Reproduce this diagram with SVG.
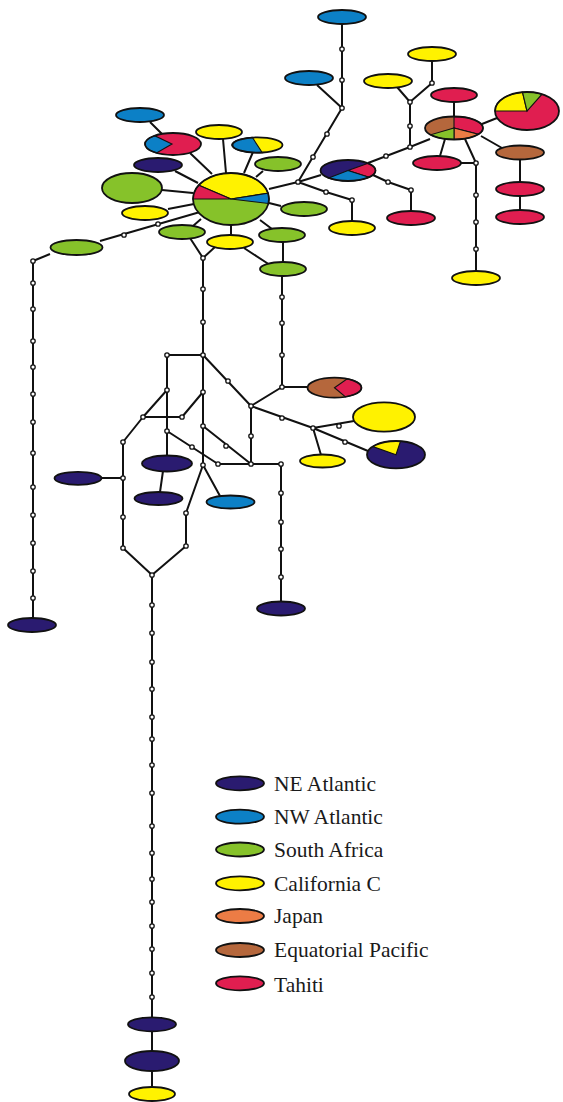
<svg xmlns="http://www.w3.org/2000/svg" width="563" height="1102" viewBox="0 0 563 1102">
<style>
.ln{fill:none;stroke:#111;stroke-width:2;stroke-linejoin:round}
.dt{fill:#fff;stroke:#111;stroke-width:1.3}
.el{stroke:#111;stroke-width:1.8}
.wd{stroke:#111;stroke-width:1.1}
.ne{fill:#2a1b70}.nw{fill:#0c80c6}.sa{fill:#86c22a}.ca{fill:#fff200}.jp{fill:#ec7c45}.eq{fill:#b5673c}.ta{fill:#e01e50}
.ol{fill:none;stroke:#111;stroke-width:1.8}
.lg{font-family:"Liberation Serif","Times New Roman",serif;font-size:21.5px;fill:#1a1a1a}
</style>
<rect width="563" height="1102" fill="#fff"/>
<g id="connectors">
<path class="ln" d="M342,24 V108 M317,85 L342,108 L298,182 L269,189 M298,182 L321,175 M298,182 L326,192 L352,200 V221"/>
<path class="ln" d="M368,163 L410,147 V102 L397,87 M410,102 L432,83 V61 M410,147 L430,139 M373,175 L388,182 L411,190 V211"/>
<path class="ln" d="M454,102 V116.5 M482,124 L497,118 M481,136 L502,148 M520,159.5 V182 M520,196 V210 M445,139 L440,156 M465,139 L476,163 M461,163 H476 V271"/>
<path class="ln" d="M150,122 L162,134 M190,153 L212,174 M223,139 L226,173 M253,152 L244,173 M263,171 L256,177 M175,171 L198,183 M162,190 L193,193 M168,209 L194,204 M100,241 L200,212 M50,254 L33,261 V618"/>
<path class="ln" d="M281,206 L269,203 M193,226 L201,219 M231,235 V225 M272,229 L260,220 M283,242 V262 M190,238 L203,258 M215,247 L203,258 M244,248 L270,265"/>
<path class="ln" d="M203,258 V465 M282,276 V387 H307.5 M282,387 L251,406 M203,355 L251,406 L313,428 L354,421 M313,428 L321,455 M313,428 L368,451 M251,406 V464 M218,464 H281 V601"/>
<path class="ln" d="M203,355 H167 V455 M203,392 L182,417 H143 M167,390 L143,417 L123,442 V548 L152,575 M101,478 H123 M203,465 L186,513 V546 L152,575 M203,465 L220,496 M203,426 L251,464 M167,431 L218,464 M163,471 L160,492"/>
<path class="ln" d="M152,575 V1017 M152,1031 V1051 M152,1071 V1087"/>
<g id="dots">
<circle class="dt" cx="342" cy="49" r="2.2"/><circle class="dt" cx="342" cy="80" r="2.2"/><circle class="dt" cx="342" cy="108" r="2.2"/>
<circle class="dt" cx="327" cy="134" r="2.2"/><circle class="dt" cx="313" cy="157" r="2.2"/><circle class="dt" cx="298" cy="182" r="2.2"/>
<circle class="dt" cx="326" cy="192" r="2.2"/><circle class="dt" cx="352" cy="200" r="2.2"/>
<circle class="dt" cx="386" cy="156" r="2.2"/><circle class="dt" cx="410" cy="147" r="2.2"/><circle class="dt" cx="410" cy="126" r="2.2"/><circle class="dt" cx="410" cy="102" r="2.2"/><circle class="dt" cx="432" cy="83" r="2.2"/>
<circle class="dt" cx="388" cy="182" r="2.2"/><circle class="dt" cx="411" cy="190" r="2.2"/>
<circle class="dt" cx="476" cy="163" r="2.2"/><circle class="dt" cx="476" cy="195" r="2.2"/><circle class="dt" cx="476" cy="222" r="2.2"/><circle class="dt" cx="476" cy="249" r="2.2"/>
<circle class="dt" cx="124" cy="235" r="2.2"/><circle class="dt" cx="158" cy="224" r="2.2"/><circle class="dt" cx="33" cy="261" r="2.2"/>
<circle class="dt" cx="33" cy="283" r="2.2"/><circle class="dt" cx="33" cy="309" r="2.2"/><circle class="dt" cx="33" cy="341" r="2.2"/><circle class="dt" cx="33" cy="367" r="2.2"/><circle class="dt" cx="33" cy="394" r="2.2"/><circle class="dt" cx="33" cy="422" r="2.2"/><circle class="dt" cx="33" cy="453" r="2.2"/><circle class="dt" cx="33" cy="487" r="2.2"/><circle class="dt" cx="33" cy="515" r="2.2"/><circle class="dt" cx="33" cy="543" r="2.2"/><circle class="dt" cx="33" cy="571" r="2.2"/><circle class="dt" cx="33" cy="598" r="2.2"/>
<circle class="dt" cx="203" cy="258" r="2.2"/><circle class="dt" cx="203" cy="289" r="2.2"/><circle class="dt" cx="203" cy="322" r="2.2"/><circle class="dt" cx="203" cy="355" r="2.2"/>
<circle class="dt" cx="282" cy="297" r="2.2"/><circle class="dt" cx="282" cy="323" r="2.2"/><circle class="dt" cx="282" cy="355" r="2.2"/><circle class="dt" cx="282" cy="387" r="2.2"/>
<circle class="dt" cx="228" cy="381" r="2.2"/><circle class="dt" cx="251" cy="406" r="2.2"/><circle class="dt" cx="282" cy="418" r="2.2"/><circle class="dt" cx="313" cy="428" r="2.2"/><circle class="dt" cx="339" cy="426" r="2.2"/><circle class="dt" cx="345" cy="442" r="2.2"/>
<circle class="dt" cx="251" cy="436" r="2.2"/><circle class="dt" cx="251" cy="464" r="2.2"/><circle class="dt" cx="218" cy="464" r="2.2"/><circle class="dt" cx="281" cy="464" r="2.2"/>
<circle class="dt" cx="281" cy="493" r="2.2"/><circle class="dt" cx="281" cy="522" r="2.2"/><circle class="dt" cx="281" cy="549" r="2.2"/><circle class="dt" cx="281" cy="577" r="2.2"/>
<circle class="dt" cx="167" cy="355" r="2.2"/><circle class="dt" cx="167" cy="390" r="2.2"/><circle class="dt" cx="167" cy="431" r="2.2"/>
<circle class="dt" cx="203" cy="392" r="2.2"/><circle class="dt" cx="203" cy="426" r="2.2"/><circle class="dt" cx="203" cy="465" r="2.2"/>
<circle class="dt" cx="182" cy="417" r="2.2"/><circle class="dt" cx="143" cy="417" r="2.2"/><circle class="dt" cx="123" cy="442" r="2.2"/><circle class="dt" cx="123" cy="478" r="2.2"/><circle class="dt" cx="123" cy="517" r="2.2"/><circle class="dt" cx="123" cy="548" r="2.2"/>
<circle class="dt" cx="226" cy="446" r="2.2"/><circle class="dt" cx="192" cy="447" r="2.2"/>
<circle class="dt" cx="186" cy="513" r="2.2"/><circle class="dt" cx="186" cy="546" r="2.2"/><circle class="dt" cx="152" cy="575" r="2.2"/>
<circle class="dt" cx="152" cy="605" r="2.2"/><circle class="dt" cx="152" cy="633" r="2.2"/><circle class="dt" cx="152" cy="662" r="2.2"/><circle class="dt" cx="152" cy="689" r="2.2"/><circle class="dt" cx="152" cy="717" r="2.2"/><circle class="dt" cx="152" cy="739" r="2.2"/><circle class="dt" cx="152" cy="765" r="2.2"/><circle class="dt" cx="152" cy="793" r="2.2"/><circle class="dt" cx="152" cy="826" r="2.2"/><circle class="dt" cx="152" cy="853" r="2.2"/><circle class="dt" cx="152" cy="879" r="2.2"/><circle class="dt" cx="152" cy="902" r="2.2"/><circle class="dt" cx="152" cy="926" r="2.2"/><circle class="dt" cx="152" cy="949" r="2.2"/><circle class="dt" cx="152" cy="973" r="2.2"/><circle class="dt" cx="152" cy="997" r="2.2"/>
</g>
</g>
<g id="n1"><ellipse class="el nw" cx="342" cy="17" rx="24" ry="7"/></g>
<g id="n2"><ellipse class="el nw" cx="309" cy="78" rx="24" ry="7"/></g>
<g id="n3"><ellipse class="el nw" cx="140" cy="115" rx="24" ry="7"/></g>
<g id="n4"><ellipse class="ta" cx="173" cy="144" rx="28" ry="11"/><path class="wd nw" d="M172,144 L156.5,152.9 A28,11 0 0 1 154.6,135.7 Z"/><ellipse class="ol" cx="173" cy="144" rx="28" ry="11"/></g>
<g id="n5"><ellipse class="el ca" cx="219" cy="132" rx="23" ry="7"/></g>
<g id="n6"><ellipse class="ca" cx="257.5" cy="145" rx="25" ry="7.7"/><path class="wd nw" d="M262.3,152.7 L252.3,137.3 A25,7.7 0 0 0 262.3,152.7 Z"/><ellipse class="ol" cx="257.5" cy="145" rx="25" ry="7.7"/></g>
<g id="n7"><ellipse class="el sa" cx="278" cy="164" rx="23" ry="7"/></g>
<g id="n8"><ellipse class="el ne" cx="158" cy="165" rx="24" ry="7"/></g>
<g id="n9"><ellipse class="el sa" cx="132" cy="188" rx="30" ry="15"/></g>
<g id="n10"><ellipse class="el ca" cx="145" cy="213" rx="23" ry="7"/></g>
<g id="center"><ellipse class="sa" cx="231" cy="199" rx="38" ry="26"/>
<path class="wd ca" d="M231,199 L198.8,185.2 A38,26 0 0 1 268,193.2 Z"/>
<path class="wd nw" d="M231,199 L268,193.2 A38,26 0 0 1 268.4,203.5 Z"/>
<path class="wd ta" d="M231,199 L193,199 A38,26 0 0 1 198.8,185.2 Z"/>
<ellipse class="ol" cx="231" cy="199" rx="38" ry="26"/></g>
<g id="n11"><ellipse class="el sa" cx="304" cy="209" rx="23" ry="7"/></g>
<g id="n12"><ellipse class="el sa" cx="182" cy="232" rx="23" ry="7"/></g>
<g id="n13"><ellipse class="el ca" cx="230" cy="242" rx="23" ry="7"/></g>
<g id="n14"><ellipse class="el sa" cx="282" cy="235" rx="23" ry="7"/></g>
<g id="n15"><ellipse class="el sa" cx="283" cy="269" rx="23" ry="7"/></g>
<g id="n16"><ellipse class="el sa" cx="76.5" cy="247.5" rx="26" ry="7.5"/></g>
<g id="n17"><ellipse class="el ne" cx="32" cy="625" rx="24" ry="7"/></g>
<g id="tri"><ellipse class="ne" cx="348" cy="170.5" rx="27.5" ry="10.5"/>
<path class="wd ta" d="M348,170.5 L368.1,163.3 A27.5,10.5 0 0 1 369.1,177.3 Z"/>
<path class="wd nw" d="M348,170.5 L369.1,177.3 A27.5,10.5 0 0 1 328.6,177.9 Z"/>
<ellipse class="ol" cx="348" cy="170.5" rx="27.5" ry="10.5"/></g>
<g id="n18"><ellipse class="el ca" cx="352" cy="228" rx="23" ry="7"/></g>
<g id="n19"><ellipse class="el ta" cx="411" cy="218" rx="24" ry="7"/></g>
<g id="n20"><ellipse class="el ca" cx="432" cy="54" rx="24" ry="7"/></g>
<g id="n21"><ellipse class="el ca" cx="388" cy="81" rx="24" ry="7"/></g>
<g id="eqpie"><ellipse class="eq" cx="454" cy="128" rx="29" ry="11.5"/>
<path class="wd ta" d="M454,128 L454,116.5 A29,11.5 0 0 1 478.3,134.3 Z"/>
<path class="wd jp" d="M454,128 L478.3,134.3 A29,11.5 0 0 1 454,139.5 Z"/>
<path class="wd sa" d="M454,128 L454,139.5 A29,11.5 0 0 1 430.5,134.8 Z"/>
<ellipse class="ol" cx="454" cy="128" rx="29" ry="11.5"/></g>
<g id="n22"><ellipse class="el ta" cx="454" cy="95" rx="23" ry="7"/></g>
<g id="bigpie"><ellipse class="ta" cx="527" cy="111" rx="32" ry="19"/>
<path class="wd ca" d="M527,111 L495,111 A32,19 0 0 1 522.5,92.2 Z"/>
<path class="wd sa" d="M527,111 L522.5,92.2 A32,19 0 0 1 542,94.2 Z"/>
<ellipse class="ol" cx="527" cy="111" rx="32" ry="19"/></g>
<g id="n23"><ellipse class="el eq" cx="520" cy="152.5" rx="24" ry="7"/></g>
<g id="n24"><ellipse class="el ta" cx="520" cy="189" rx="24" ry="7"/></g>
<g id="n25"><ellipse class="el ta" cx="520" cy="217" rx="24" ry="7"/></g>
<g id="n26"><ellipse class="el ta" cx="437" cy="163" rx="24" ry="7"/></g>
<g id="n27"><ellipse class="el ca" cx="476" cy="278" rx="24" ry="7"/></g>
<g id="pie-p"><ellipse class="eq" cx="334.5" cy="387.7" rx="27" ry="10"/>
<path class="wd ta" d="M334.5,387.7 L347.2,378.9 A27,10 0 0 1 345.5,396.8 Z"/>
<ellipse class="ol" cx="334.5" cy="387.7" rx="27" ry="10"/></g>
<g id="n28"><ellipse class="el ca" cx="384" cy="417" rx="31" ry="14.7"/></g>
<g id="pie-q"><ellipse class="ne" cx="396" cy="454.7" rx="29" ry="13.7"/>
<path class="wd ca" d="M396,454.7 L372.8,446.5 A29,13.7 0 0 1 400.5,441.2 Z"/>
<ellipse class="ol" cx="396" cy="454.7" rx="29" ry="13.7"/></g>
<g id="n29"><ellipse class="el ca" cx="322.5" cy="461" rx="22.5" ry="6.5"/></g>
<g id="n30"><ellipse class="el ne" cx="281" cy="608.5" rx="24" ry="7"/></g>
<g id="n31"><ellipse class="el ne" cx="167" cy="463.5" rx="25" ry="8"/></g>
<g id="n32"><ellipse class="el ne" cx="158.5" cy="498.5" rx="24" ry="6.5"/></g>
<g id="n33"><ellipse class="el nw" cx="230.5" cy="502" rx="24" ry="6.5"/></g>
<g id="n34"><ellipse class="el ne" cx="78" cy="478.3" rx="23.5" ry="6.5"/></g>
<g id="n35"><ellipse class="el ne" cx="152" cy="1024.3" rx="24" ry="7"/></g>
<g id="n36"><ellipse class="el ne" cx="152" cy="1061" rx="27" ry="10"/></g>
<g id="n37"><ellipse class="el ca" cx="152" cy="1094" rx="23" ry="7"/></g>
<g id="legend">
<ellipse class="el ne" cx="240" cy="783.3" rx="24" ry="7"/><text class="lg" x="274" y="790.7">NE Atlantic</text>
<ellipse class="el nw" cx="240" cy="816.7" rx="24" ry="7"/><text class="lg" x="274" y="824">NW Atlantic</text>
<ellipse class="el sa" cx="240" cy="849.5" rx="24" ry="7"/><text class="lg" x="274" y="857.3">South Africa</text>
<ellipse class="el ca" cx="240" cy="883.3" rx="24" ry="7"/><text class="lg" x="274" y="890.7">California C</text>
<ellipse class="el jp" cx="240" cy="916" rx="24" ry="7"/><text class="lg" x="274" y="923.3">Japan</text>
<ellipse class="el eq" cx="240" cy="950" rx="24" ry="7"/><text class="lg" x="274" y="957.3">Equatorial Pacific</text>
<ellipse class="el ta" cx="240" cy="983.3" rx="24" ry="7"/><text class="lg" x="274" y="991.7">Tahiti</text>
</g>
</svg>
